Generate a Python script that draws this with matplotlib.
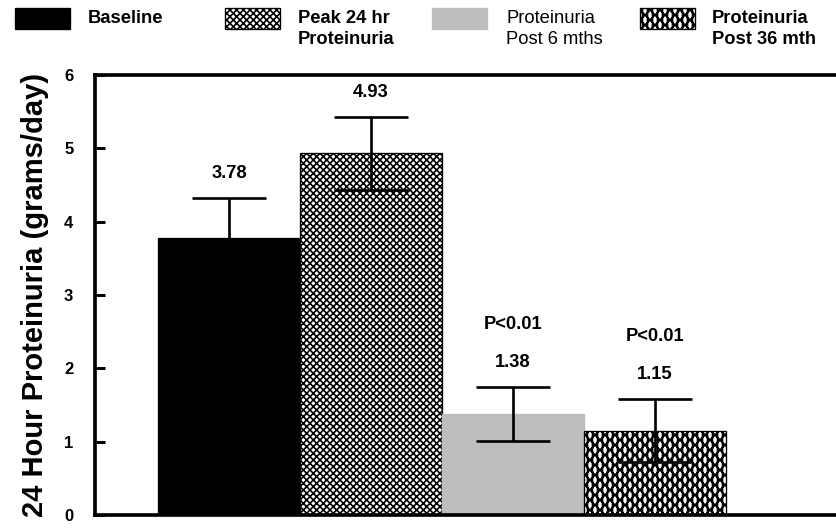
import matplotlib
matplotlib.use("Agg")
import matplotlib.pyplot as plt
from matplotlib.patches import Rectangle

plt.rcParams["font.family"] = ["Liberation Sans", "DejaVu Sans"]
plt.rcParams["hatch.linewidth"] = 1.0

# series shown as four contiguous bars
groups = ["Baseline", "Peak 24 hr\nProteinuria", "Proteinuria\nPost 6 mths", "Proteinuria\nPost 36 mth"]
means = [3.78, 4.93, 1.38, 1.15]
errors = [0.54, 0.50, 0.37, 0.43]
pvalues = ["", "", "P<0.01", "P<0.01"]
yticks = [0, 1, 2, 3, 4, 5, 6]

faces = ["black", "white", "#bdbdbd", "white"]
edges = ["black", "black", "#bdbdbd", "black"]
hatches = [None, "xxxxxx", None, "xxxx||||"]
label_weights = ["bold", "bold", "normal", "bold"]

W, H, DPI = 836, 531, 120
fig = plt.figure(figsize=(W / DPI, H / DPI), dpi=DPI)
ax = fig.add_axes([95 / W, 16 / H, 1 - 95 / W, 440 / H])

x = list(range(len(means)))
ax.bar(x, means, width=1.0, color=faces, hatch=hatches,
       edgecolor=edges, linewidth=0.8, zorder=2)
ax.errorbar(x, means, yerr=errors, fmt="none", ecolor="black",
            elinewidth=1.6, capsize=22, capthick=1.6, zorder=3)

for xi, m, e, p in zip(x, means, errors, pvalues):
    top = m + e + 0.33
    ax.text(xi, top, f"{m:.2f}", ha="center", va="center",
            fontsize=11, fontweight="bold")
    if p:
        ax.text(xi, top + 0.52, p, ha="center", va="center",
                fontsize=11, fontweight="bold")

ax.set_xlim(-0.944, 4.274)
ax.set_ylim(0, 6)
ax.set_yticks(yticks)
ax.set_yticklabels([str(t) for t in yticks], fontsize=10, fontweight="bold")
ax.set_xticks([])
ax.tick_params(axis="y", direction="in", length=6, width=1.8, pad=13)
ax.set_ylabel("24 Hour Proteinuria (grams/day)", fontsize=17.5,
              fontweight="bold", labelpad=9)
for side in ("left", "bottom", "top"):
    ax.spines[side].set_linewidth(2.2)
ax.spines["right"].set_visible(False)

# legend strip above the plot
patch_x = [15, 225, 432, 640]
text_x = [88, 298, 506, 712]
for px, tx, name, fc, ec, hc, fw in zip(patch_x, text_x, groups, faces, edges,
                                       hatches, label_weights):
    fig.add_artist(Rectangle((px / W, 1 - 29 / H), 55 / W, 21 / H,
                             transform=fig.transFigure, facecolor=fc,
                             hatch=hc, edgecolor=ec, linewidth=0.8))
    fig.text(tx / W, 1 - 10 / H, name, ha="left", va="top", fontsize=11,
             fontweight=fw, linespacing=1.3)

fig.savefig("out.png", dpi=DPI)
